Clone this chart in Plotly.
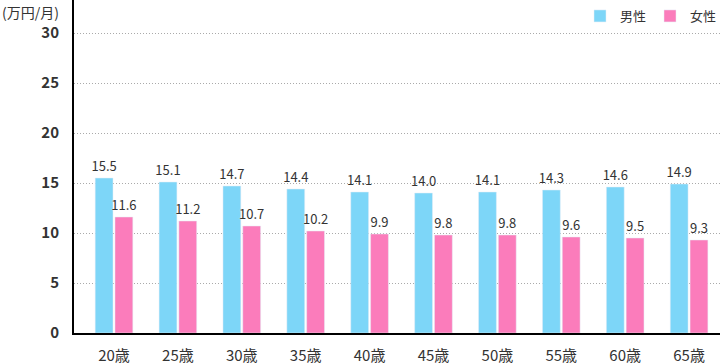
import plotly.graph_objects as go

categories = ["20歳", "25歳", "30歳", "35歳", "40歳", "45歳", "50歳", "55歳", "60歳", "65歳"]
male = [15.5, 15.1, 14.7, 14.4, 14.1, 14.0, 14.1, 14.3, 14.6, 14.9]
female = [11.6, 11.2, 10.7, 10.2, 9.9, 9.8, 9.8, 9.6, 9.5, 9.3]
y_ticks = [0, 5, 10, 15, 20, 25, 30]

font_family = "Noto Sans CJK JP"
txt_color = "#333333"

fig = go.Figure()
fig.add_trace(go.Bar(
    name="男性", x=categories, y=male, marker_color="#7dd6f8",
    text=[f"{v:.1f}" for v in male], textposition="outside", constraintext="none",
    textfont=dict(size=13, color=txt_color, family=font_family, shadow="0 0 2px white"),
    cliponaxis=False,
))
fig.add_trace(go.Bar(
    name="女性", x=categories, y=female, marker_color="#fb7cbb",
    text=[f"{v:.1f}" for v in female], textposition="outside", constraintext="none",
    textfont=dict(size=13, color=txt_color, family=font_family, shadow="0 0 2px white"),
    cliponaxis=False,
))

fig.update_layout(
    width=720, height=364,
    margin=dict(l=74, r=0, t=0, b=31),
    paper_bgcolor="white", plot_bgcolor="white",
    barmode="group", bargap=0.38, bargroupgap=0.1,
    font=dict(family=font_family, color=txt_color),
    showlegend=True,
    legend=dict(orientation="h", x=1.0, xanchor="right", y=0.997, yanchor="top",
                font=dict(size=13, color=txt_color, family=font_family),
                itemwidth=30, entrywidth=25, entrywidthmode="pixels",
                bgcolor="rgba(0,0,0,0)", traceorder="normal"),
    xaxis=dict(range=[-0.626, 9.484], showline=True, linecolor="black", linewidth=2,
               ticks="outside", ticklen=8, tickcolor="rgba(0,0,0,0)",
               tickfont=dict(size=15, color=txt_color), showgrid=False),
    yaxis=dict(range=[0, 33.3], tickvals=y_ticks, showline=True, linecolor="black", linewidth=2,
               ticks="outside", ticklen=10, tickcolor="rgba(0,0,0,0)",
               tickfont=dict(size=15, color=txt_color, family=font_family, weight="bold"),
               showgrid=True, gridcolor="#aaaaaa", griddash="1px,2px", gridwidth=1,
               zeroline=False),
    annotations=[dict(text="(万円/月)", xref="paper", yref="paper", x=-74/646, y=1.0,
                      xanchor="left", yanchor="top", showarrow=False,
                      font=dict(size=14, color=txt_color, family=font_family))],
)

fig.write_html("out.html", config={"displayModeBar": False})

# remove default page margin so the 720x364 figure fits the window exactly
with open("out.html", "r", encoding="utf-8") as f:
    html = f.read()
html = html.replace("<head>", "<head><style>html,body{margin:0;padding:0;overflow:hidden;}</style>", 1)
with open("out.html", "w", encoding="utf-8") as f:
    f.write(html)
